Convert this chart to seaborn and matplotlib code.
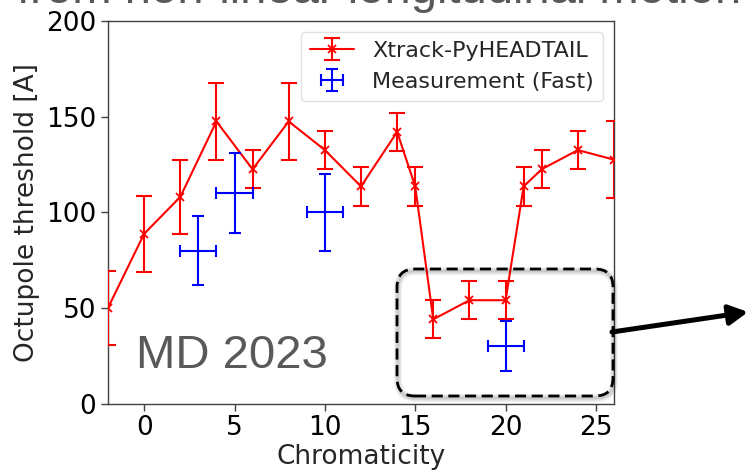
import matplotlib
matplotlib.use("Agg")
import matplotlib.pyplot as plt
import seaborn as sns
import pandas as pd
from matplotlib.patches import FancyBboxPatch, FancyArrowPatch
from matplotlib.transforms import IdentityTransform
from matplotlib.legend_handler import HandlerTuple

# Simulated instability thresholds (Xtrack-PyHEADTAIL)
chroma_sim = [-2, 0, 2, 4, 6, 8, 10, 12, 14, 15, 16, 18, 20, 21, 22, 24, 26]
thresh_sim = [50, 88.75, 108, 147.5, 122.5, 147.5, 132.5, 113.5, 142, 113.5,
              44, 54, 54, 113.5, 122.5, 132.5, 127.5]
err_sim = [19.5, 20, 19.5, 20, 10, 20, 10, 10, 10, 10, 10, 10, 10, 10, 10, 10, 20]

# Measured thresholds (fast octupole scan)
chroma_meas = [3, 5, 10, 20]
thresh_meas = [80, 110, 100, 30]
yerr_meas = [18, 21, 20, 13]
xerr_meas = [1, 1, 1, 1]

x_ticks = [0, 5, 10, 15, 20, 25]
y_ticks = [0, 50, 100, 150, 200]

sns.set_theme(style="ticks")
plt.rcParams["font.family"] = ["DejaVu Sans"]
plt.rcParams["axes.edgecolor"] = "0.25"
plt.rcParams["xtick.color"] = "0.25"
plt.rcParams["ytick.color"] = "0.25"
plt.rcParams["xtick.labelcolor"] = "black"
plt.rcParams["ytick.labelcolor"] = "black"

fig = plt.figure(figsize=(7.49, 4.71), dpi=100)
ax = fig.add_axes([108 / 749, 1 - 403.5 / 471, 506 / 749, 382.5 / 471])

sim = pd.DataFrame({"chroma": chroma_sim, "thresh": thresh_sim})
sns.lineplot(data=sim, x="chroma", y="thresh", ax=ax, color="red",
             marker="x", markersize=6, markeredgewidth=1.3,
             markeredgecolor="red", lw=1.5, legend=False, zorder=3)
line_sim = ax.get_lines()[-1]
eb_sim = ax.errorbar(chroma_sim, thresh_sim, yerr=err_sim, fmt="none",
                     ecolor="red", elinewidth=1.5, capsize=5.5,
                     capthick=1.5, zorder=3)
eb_meas = ax.errorbar(chroma_meas, thresh_meas, xerr=xerr_meas,
                      yerr=yerr_meas, fmt="none", ecolor="blue",
                      elinewidth=1.5, capsize=4.5, capthick=1.5, zorder=3)

ax.set_xlim(-2, 26)
ax.set_ylim(0, 200)
ax.set_xticks(x_ticks)
ax.set_yticks(y_ticks)
ax.tick_params(labelsize=19, length=5, width=1)
ax.set_xlabel("Chromaticity", fontsize=19, labelpad=2)
ax.set_ylabel("Octupole threshold [A]", fontsize=19, labelpad=4)
for s in ax.spines.values():
    s.set_linewidth(1.0)

leg = ax.legend([(eb_sim, line_sim), eb_meas],
                ["Xtrack-PyHEADTAIL", "Measurement (Fast)"],
                handler_map={tuple: HandlerTuple(ndivide=1)},
                loc="upper right", fontsize=16, frameon=True,
                handlelength=2.0)
leg.get_frame().set_edgecolor("0.85")
leg.get_frame().set_linewidth(1.0)

# Campaign label
fig.text(136 / 749, 1 - 368 / 471, "MD 2023", fontsize=34,
         family="Liberation Sans", color="#595959", va="baseline")

# Slide heading above the plot (runs off the top edge)
fig.text(17 / 749, 1 - 3 / 471, "from non-linear longitudinal motion",
         fontsize=34, family="Liberation Sans", color="#595959",
         va="baseline")

# Highlight box around the low-threshold region, with a soft shadow
H = 471
x0, x1, ytop, ybot = 397, 613, 269, 396
for k, a in [(6, 0.05), (4, 0.07), (2, 0.09)]:
    sh = FancyBboxPatch((x0 + 1, H - ybot - 2), x1 - x0, ybot - ytop,
                        boxstyle="round,pad=0,rounding_size=18",
                        transform=IdentityTransform(), fill=False,
                        edgecolor="black", lw=k, alpha=a, zorder=4)
    fig.patches.append(sh)
box = FancyBboxPatch((x0, H - ybot), x1 - x0, ybot - ytop,
                     boxstyle="round,pad=0,rounding_size=18",
                     transform=IdentityTransform(), fill=False,
                     edgecolor="black", lw=2.0, linestyle=(0, (4, 2)),
                     zorder=5)
fig.patches.append(box)

arrow = FancyArrowPatch((612, H - 332), (748, H - 312),
                        transform=IdentityTransform(),
                        arrowstyle="-|>,head_length=0.75,head_width=0.4",
                        mutation_scale=15, lw=3.6, color="black",
                        shrinkA=0, shrinkB=0, zorder=5)
fig.patches.append(arrow)

fig.savefig("out.png", dpi=100)
